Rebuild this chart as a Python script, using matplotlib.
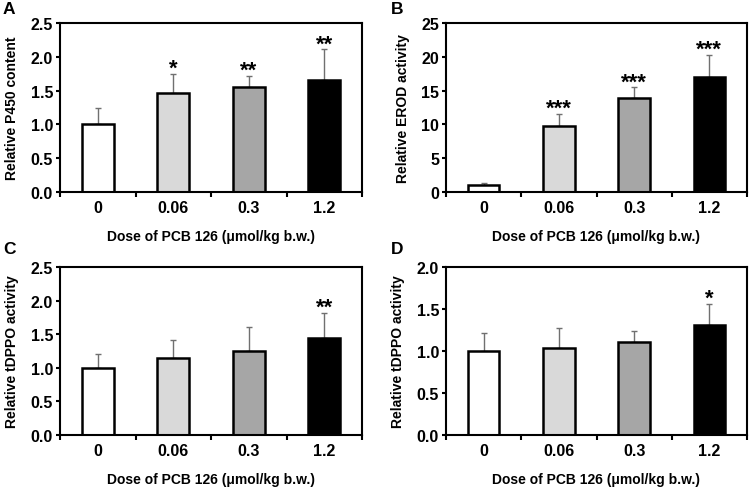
import matplotlib
matplotlib.use("Agg")
import matplotlib.pyplot as plt
import numpy as np

plt.rcParams['font.family'] = ['Liberation Sans', 'DejaVu Sans']
plt.rcParams['font.weight'] = 'bold'

categories = ["0", "0.06", "0.3", "1.2"]
bar_colors = ["#ffffff", "#d9d9d9", "#a6a6a6", "#000000"]

p450_mean = [1.00, 1.47, 1.56, 1.65]
p450_err = [0.25, 0.28, 0.16, 0.46]
p450_sig = ["", "*", "**", "**"]

erod_mean = [1.0, 9.7, 13.9, 17.0]
erod_err = [0.4, 1.9, 1.6, 3.3]
erod_sig = ["", "***", "***", "***"]

tdppo_c_mean = [1.00, 1.15, 1.25, 1.45]
tdppo_c_err = [0.21, 0.26, 0.35, 0.37]
tdppo_c_sig = ["", "", "", "**"]

tdppo_d_mean = [1.00, 1.04, 1.11, 1.31]
tdppo_d_err = [0.21, 0.23, 0.13, 0.25]
tdppo_d_sig = ["", "", "", "*"]

panels = [
    ("A", "Relative P450 content", p450_mean, p450_err, p450_sig, 2.5, 0.5, "{:.1f}"),
    ("B", "Relative EROD activity", erod_mean, erod_err, erod_sig, 25, 5, "{:.0f}"),
    ("C", "Relative tDPPO activity", tdppo_c_mean, tdppo_c_err, tdppo_c_sig, 2.5, 0.5, "{:.1f}"),
    ("D", "Relative tDPPO activity", tdppo_d_mean, tdppo_d_err, tdppo_d_sig, 2.0, 0.5, "{:.1f}"),
]

W, H = 755, 489
fig = plt.figure(figsize=(W / 100, H / 100), dpi=100)

boxes = [(60, 24, 362, 193), (446, 24, 747, 193), (60, 268, 362, 436), (446, 268, 747, 436)]
letter_pos = [(3, 10), (391, 10), (3, 250), (391, 250)]

x = np.arange(len(categories))
for (letter, ylabel, mean, err, sig, ymax, ystep, fmt), (l, t, r, b), (lx, ly) in zip(panels, boxes, letter_pos):
    ax = fig.add_axes([l / W, 1 - b / H, (r - l) / W, (b - t) / H])
    ax.bar(x, mean, width=0.42, color=bar_colors, edgecolor="black", linewidth=1.8, zorder=2)
    ax.errorbar(x, mean, yerr=[np.zeros(len(mean)), err], fmt="none", ecolor="#707070",
                elinewidth=1.0, capsize=2.2, capthick=1.0, zorder=1)
    for xi, m, e, s in zip(x, mean, err, sig):
        if s:
            ax.text(xi, m + e, s, ha="center", va="baseline", fontsize=16,
                    fontweight="bold")
    ax.set_xlim(-0.5, 3.5)
    ax.set_ylim(0, ymax)
    yt = np.arange(0, ymax + ystep / 2, ystep)
    ax.set_yticks(yt)
    ax.set_yticklabels([fmt.format(v) for v in yt], fontsize=11.5, fontweight="bold")
    ax.set_xticks(x)
    ax.set_xticklabels(categories, fontsize=11.5, fontweight="bold")
    ax.tick_params(axis="x", which="major", length=0, pad=6)
    ax.set_xticks(np.arange(-0.5, 3.6, 1.0), minor=True)
    ax.tick_params(axis="x", which="minor", length=3.5, width=1.5, direction="out")
    ax.tick_params(axis="y", length=3, width=1.5, direction="out", pad=2)
    for sp in ax.spines.values():
        sp.set_linewidth(1.5)
    ax.set_ylabel(ylabel, fontsize=10, fontweight="bold", labelpad=8)
    ax.set_xlabel("Dose of PCB 126 (μmol/kg b.w.)", fontsize=10, fontweight="bold", labelpad=10)
    fig.text(lx / W, 1 - ly / H, letter, fontsize=12.5, fontweight="bold",
             ha="left", va="center")

fig.savefig("out.png", dpi=100)
